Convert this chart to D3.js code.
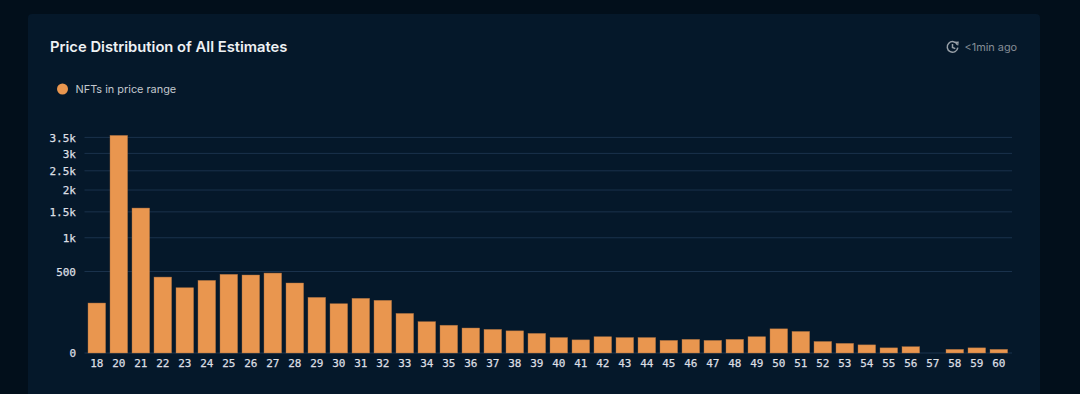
<!DOCTYPE html>
<html>
<head>
    <meta charset="utf-8">
    <script src="https://d3js.org/d3.v7.min.js"></script>
    <style>
        html, body {
            margin: 0;
            padding: 0;
            background: #020f1b;
            overflow: hidden;
        }

        svg {
            display: block;
            font-family: Inter, "Noto Sans", sans-serif;
        }

        .axis text {
            font-family: "DejaVu Sans Mono", monospace;
            font-size: 11px;
            fill: #dcdfe3;
            stroke: #dcdfe3;
            stroke-width: 0.25px;
        }

        .axis path,
        .axis line {
            display: none;
        }
    </style>
</head>
<body>
    <svg width="1080" height="394"></svg>
    <script>
        const width = 1080,
            height = 394;

        // price range buckets (there is no 19 in the chart)
        const priceRanges = [18, 20, 21, 22, 23, 24, 25, 26, 27, 28, 29, 30, 31, 32, 33, 34, 35, 36, 37, 38, 39,
            40, 41, 42, 43, 44, 45, 46, 47, 48, 49, 50, 51, 52, 53, 54, 55, 56, 57, 58, 59, 60];
        const nftCounts = [188, 3565, 1582, 434, 321, 397, 466, 458, 481, 369, 233, 183, 225, 209, 118, 74, 58, 47, 42, 37, 29,
            18, 13, 20, 18, 18, 12, 14, 12, 14, 20, 44, 35, 10, 7, 5, 2, 3, 0, 1, 2, 1];
        const yTickValues = [0, 500, 1000, 1500, 2000, 2500, 3000, 3500];
        const yTickLabels = ["0", "500", "1k", "1.5k", "2k", "2.5k", "3k", "3.5k"];

        const svg = d3.select("svg");

        const bg = svg.append("g");
        bg.append("rect").attr("width", width).attr("height", height).attr("fill", "#020f1b");
        bg.append("rect")
            .attr("x", 28)
            .attr("y", 14)
            .attr("width", 1012)
            .attr("height", 400)
            .attr("rx", 4)
            .attr("fill", "#05182a");

        const xScale = d3.scaleBand().domain(priceRanges).range([85.8, 1009.8]).paddingInner(0.2).paddingOuter(0.1);
        const yScale = d3.scaleSqrt().domain([0, 3500]).range([353, 137.4]);

        // grid
        svg.append("g")
            .selectAll("line")
            .data(yTickValues)
            .join("line")
            .attr("x1", 84.5)
            .attr("x2", 1012)
            .attr("y1", d => yScale(d))
            .attr("y2", d => yScale(d))
            .attr("stroke", "#1a324c")
            .attr("stroke-width", 1);

        // bars
        svg.append("g")
            .selectAll("rect")
            .data(priceRanges)
            .join("rect")
            .attr("x", d => xScale(d))
            .attr("width", xScale.bandwidth())
            .attr("y", (d, i) => yScale(nftCounts[i]))
            .attr("height", (d, i) => yScale(0) - yScale(nftCounts[i]))
            .attr("fill", "#e9964f")
            .attr("stroke", "#a86f40")
            .attr("stroke-opacity", d => nftCounts[priceRanges.indexOf(d)] > 0 ? 0.7 : 0)
            .attr("stroke-width", 0.6);

        // axes
        svg.append("g")
            .attr("class", "axis")
            .attr("transform", "translate(85,0)")
            .call(d3.axisLeft(yScale).tickValues(yTickValues).tickFormat((d, i) => yTickLabels[i]).tickSize(0).tickPadding(9))
            .call(g => g.selectAll("text").attr("dy", "0.35em"));
        svg.append("g")
            .attr("class", "axis")
            .attr("transform", "translate(0,353)")
            .call(d3.axisBottom(xScale).tickSize(0).tickPadding(6));

        // header
        svg.append("text")
            .attr("x", 50)
            .attr("y", 52)
            .attr("fill", "#eef1f4")
            .attr("font-size", 14.75)
            .attr("font-weight", 600)
            .text("Price Distribution of All Estimates");

        // legend
        svg.append("circle")
            .attr("cx", 62.5)
            .attr("cy", 89)
            .attr("r", 5.5)
            .attr("fill", "#e9964f");
        svg.append("text")
            .attr("x", 75.5)
            .attr("y", 93)
            .attr("fill", "#c3c8ce")
            .attr("font-size", 10.9)
            .text("NFTs in price range");

        // refresh clock
        const icon = svg.append("g")
            .attr("transform", "translate(952.5,47)")
            .attr("fill", "none")
            .attr("stroke", "#98a0a8")
            .attr("stroke-width", 1.5);
        icon.append("path").attr("d", "M4.8,-2.4A5.3,5.3 0 1 0 5.3,0.6");
        icon.append("path").attr("d", "M0,-3V0.4L2.8,1.6");
        icon.append("path").attr("d", "M2.2,-4.6L5.6,-4.8L5.2,-1.6").attr("stroke-width", 1.2);
        svg.append("text")
            .attr("x", 964.5)
            .attr("y", 51)
            .attr("fill", "#868e97")
            .attr("font-size", 10.9)
            .text("<1min ago");
    </script>
</body>
</html>
